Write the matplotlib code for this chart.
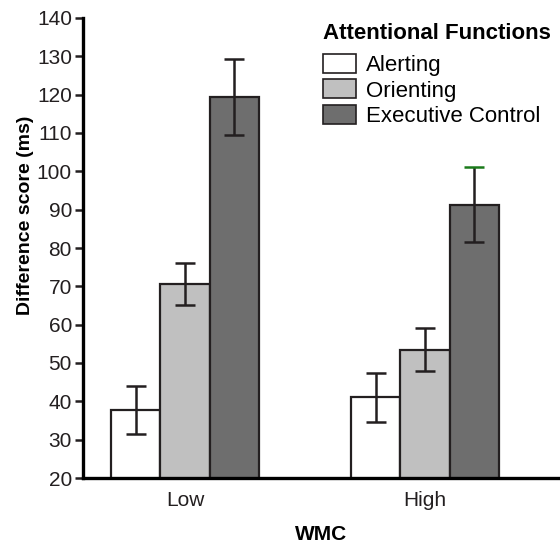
import matplotlib
matplotlib.use('Agg')
import matplotlib.pyplot as plt
import numpy as np
from matplotlib.patches import Patch

plt.rcParams['font.family'] = ['Liberation Sans', 'DejaVu Sans']

# data
groups = ['Low', 'High']
functions = ['Alerting', 'Orienting', 'Executive Control']
means = {
    'Alerting': [37.8, 41.0],
    'Orienting': [70.5, 53.5],
    'Executive Control': [119.5, 91.3],
}
errors = {
    'Alerting': [6.2, 6.3],
    'Orienting': [5.5, 5.5],
    'Executive Control': [9.9, 9.8],
}
colors = ['#ffffff', '#c0c0c0', '#6e6e6e']
edge = '#231f20'

fig = plt.figure(figsize=(5.6, 5.44), dpi=100)
ax = fig.add_axes([83 / 560, 1 - 478 / 544, 1 - 83 / 560, 460 / 544])

x = np.arange(len(groups))
width = 0.205
for i, (name, col) in enumerate(zip(functions, colors)):
    pos = x + (i - 1) * width
    ax.bar(pos, means[name], width, bottom=0, color=col, edgecolor=edge,
           linewidth=1.6, zorder=2)
    eb = ax.errorbar(pos, means[name], yerr=errors[name], fmt='none',
                     ecolor=edge, elinewidth=1.8, capsize=7, capthick=1.8,
                     zorder=3)
    if name == 'Executive Control':
        # the top cap on the High bar is green in the original
        top = eb.lines[1][1]
        ys = top.get_ydata()
        xs = top.get_xdata()
        top.set_visible(False)
        ax.plot(xs[0], ys[0], marker='_', markersize=14, mew=1.8,
                color=edge, zorder=4, linestyle='none')
        ax.plot(xs[1], ys[1], marker='_', markersize=14, mew=1.8,
                color='#1a7a1a', zorder=4, linestyle='none')

ax.set_ylim(20, 140)
ax.set_xlim(-0.425, 1.5625)
ax.set_yticks(range(20, 141, 10))
ax.set_xticks(x)
ax.set_xticklabels(groups)
ax.tick_params(axis='y', direction='out', length=6, width=1.8,
               labelsize=15, colors='#231f20', pad=2)
ax.tick_params(axis='x', length=0, labelsize=15, colors='#231f20', pad=9)
for s in ['top', 'right']:
    ax.spines[s].set_visible(False)
for s in ['left', 'bottom']:
    ax.spines[s].set_linewidth(2.4)
    ax.spines[s].set_color('black')

ax.set_ylabel('Difference score (ms)', fontsize=14, fontweight='bold')
ax.yaxis.set_label_coords(-0.103, 0.57)
ax.set_xlabel('WMC', fontsize=15, fontweight='bold', labelpad=11)

handles = [Patch(facecolor=c, edgecolor=edge, linewidth=1.2, label=n)
           for n, c in zip(functions, colors)]
leg = fig.legend(handles=handles, title='Attentional Functions', loc='upper left',
                 bbox_to_anchor=(323 / 560, 1 - 23 / 544), frameon=False, fontsize=16,
                 title_fontproperties={'weight': 'bold', 'size': 16},
                 handlelength=1.5, handleheight=0.95, handletextpad=0.45,
                 labelspacing=0.15, borderpad=0, borderaxespad=0)
leg._legend_box.align = 'left'
leg._legend_box.sep = 7

fig.savefig('out.png', dpi=100)
